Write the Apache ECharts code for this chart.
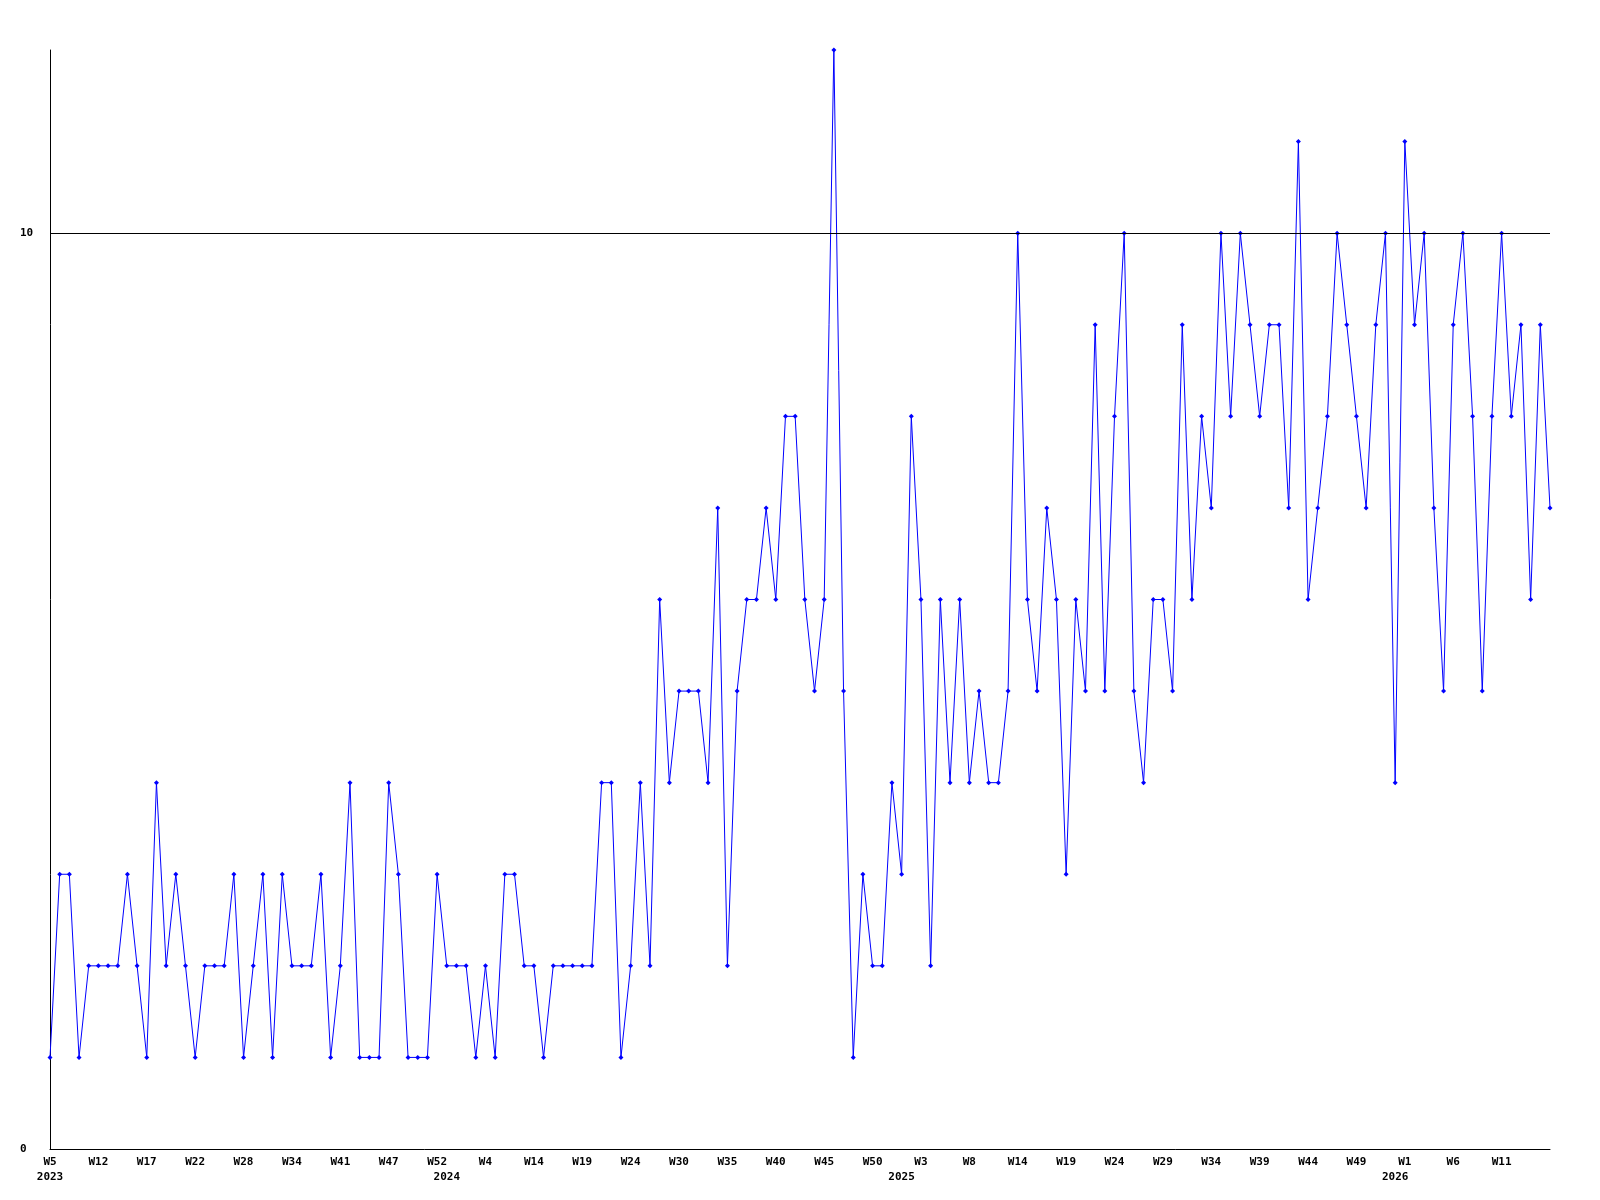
<!DOCTYPE html>
<html>
<head>
<meta charset="utf-8">
<script src="https://cdn.jsdelivr.net/npm/echarts@6/dist/echarts.min.js"></script>
<style>
html,body{margin:0;padding:0;background:#fff;}
#chart{width:1600px;height:1200px;}
</style>
</head>
<body>
<div id="chart"></div>
<script>
// Week numbers of each plotted point, per year
const weeks2023 = [5,6,7,9,10,12,13,14,15,16,17,18,19,20,21,22,23,24,25,27,28,29,30,31,33,34,35,36,38,39,41,42,43,44,45,47,48,49,50,51,52];
const weeks2024 = [0,1,2,3,4,6,8,10,12,14,15,16,17,18,19,20,21,22,23,24,25,26,28,29,30,31,32,33,34,35,36,37,38,39,40,41,42,43,44,45,46,47,48,49,50,51,52];
const weeks2025 = [0,1,3,4,5,6,7,8,9,10,11,13,14,15,16,17,18,19,20,21,22,23,24,25,26,27,28,29,30,31,32,33,34,35,36,37,38,39,40,41,42,43,44,45,46,47,48,49,50,51,52];
const weeks2026 = [0,1,2,3,4,5,6,7,8,9,10,11,12,13,14,15,16];

// Series values (one per point)
const values = [
  1,3,3,1,2,2,2,2,3,2,
  1,4,2,3,2,1,2,2,2,3,
  1,2,3,1,3,2,2,2,3,1,
  2,4,1,1,1,4,3,1,1,1,
  3,2,2,2,1,2,1,3,3,2,
  2,1,2,2,2,2,2,4,4,1,
  2,4,2,6,4,5,5,5,4,7,
  2,5,6,6,7,6,8,8,6,5,
  6,12,5,1,3,2,2,4,3,8,
  6,2,6,4,6,4,5,4,4,5,
  10,6,5,7,6,3,6,5,9,5,
  8,10,5,4,6,6,5,9,6,8,
  7,10,8,10,9,8,9,9,7,11,
  6,7,8,10,9,8,7,9,10,4,
  11,9,10,7,5,9,10,8,5,8,
  10,8,9,6,9,7
];

// Y tick labels
const yTicks = [0, 10];
const refLine = 10;

// Build categories
const categories = [];
const pointYear = [];
[[2023, weeks2023],[2024, weeks2024],[2025, weeks2025],[2026, weeks2026]].forEach(([y, ws]) => {
  ws.forEach(w => { categories.push(y + '-W' + w); pointYear.push(y); });
});
const n = Math.min(categories.length, values.length);
const cats = categories.slice(0, n);
const vals = values.slice(0, n);

const font = {fontFamily: 'DejaVu Sans Mono', fontWeight: 'bold', fontSize: 11, color: '#000'};

const chart = echarts.init(document.getElementById('chart'));
chart.setOption({
  animation: false,
  backgroundColor: '#ffffff',
  grid: {left: 50, right: 50, top: 50, bottom: 51, containLabel: false},
  xAxis: [{
    type: 'category',
    data: cats,
    boundaryGap: false,
    axisLine: {show: true, lineStyle: {color: '#000', width: 1}},
    axisTick: {show: false},
    splitLine: {show: false},
    axisLabel: Object.assign({
      interval: (i) => i % 5 === 0 && i !== n - 1,
      margin: 8,
      hideOverlap: false,
      formatter: v => v.split('-')[1]
    }, font)
  }, {
    type: 'category',
    data: cats,
    boundaryGap: false,
    position: 'bottom',
    offset: 15,
    axisLine: {show: false},
    axisTick: {show: false},
    splitLine: {show: false},
    axisLabel: Object.assign({
      margin: 8,
      hideOverlap: false,
      interval: (i) => i === 0 || pointYear[i] !== pointYear[i - 1],
      formatter: v => v.split('-')[0]
    }, font)
  }],
  yAxis: {
    type: 'value',
    min: yTicks[0],
    max: 12,
    interval: yTicks[1] - yTicks[0],
    axisLine: {show: true, lineStyle: {color: '#000', width: 1}},
    axisTick: {show: false},
    splitLine: {show: false},
    axisLabel: Object.assign({
      align: 'left',
      margin: 30,
      showMaxLabel: false
    }, font)
  },
  series: [{
    type: 'line',
    data: vals,
    xAxisIndex: 0,
    color: '#0000ff',
    lineStyle: {color: '#0000ff', width: 1},
    itemStyle: {color: '#0000ff'},
    symbol: 'diamond',
    symbolSize: 5,
    showSymbol: true,
    showAllSymbol: true,
    markLine: {
      silent: true,
      symbol: ['none', 'none'],
      label: {show: false},
      lineStyle: {color: '#000', width: 1, type: 'solid'},
      data: [{yAxis: refLine}]
    }
  }]
});
</script>
</body>
</html>
